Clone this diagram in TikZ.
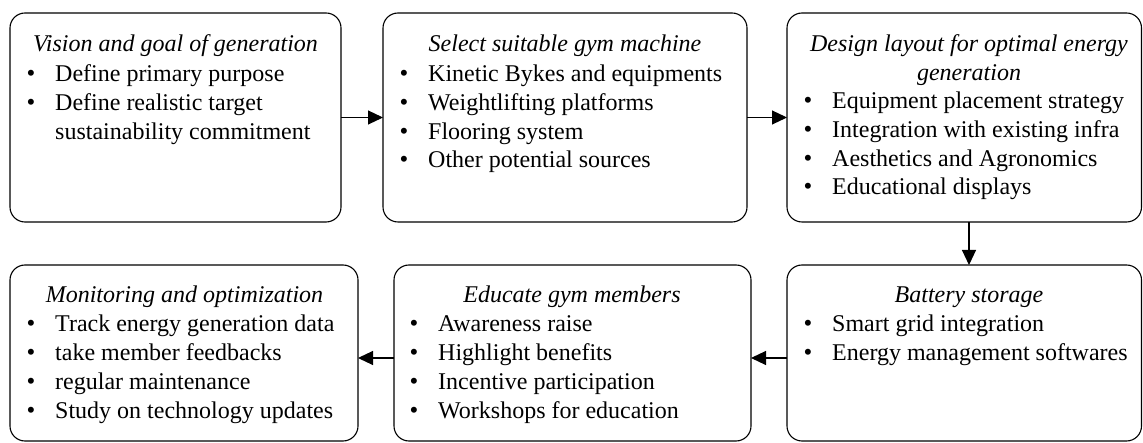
\documentclass[tikz,border=0pt]{standalone}
\usepackage{fontspec}
\setmainfont{Liberation Serif}
\usetikzlibrary{arrows.meta}
\tikzset{
 boxshape/.style={draw=black, line width=1.1pt, rounded corners=15pt, inner sep=0pt, outer sep=0pt},
 headtxt/.style={anchor=base, inner sep=0pt, font=\fontsize{24}{28.8}\selectfont\itshape},
 itemtxt/.style={anchor=base west, inner sep=0pt, font=\fontsize{24}{28.8}\selectfont},
 flow/.style={line width=1.1pt, -{Triangle[length=15pt,width=14pt]}},
}
\newcommand\bigbul{\makebox[28pt][l]{\hspace{-0.5pt}{\fontsize{25}{28}\selectfont\textbullet}}}
\newcommand\bitems[5]{%
 \foreach \t [count=\i from 0] in {#5} {
   \node[itemtxt] (#1-\i) at ({#2-28}, {#3+#4*\i}) {\bigbul\t};
 }}
\begin{document}
\begin{tikzpicture}[x=1pt,y=-1pt]
\useasboundingbox (0,0) rectangle (1143,443);
% boxes
\node[boxshape, minimum width=331pt, minimum height=209pt] (b1) at (175.5,117.5) {};
\node[boxshape, minimum width=364pt, minimum height=209pt] (b2) at (565,117.5) {};
\node[boxshape, minimum width=354.5pt, minimum height=209pt] (b3) at (964.25,117.5) {};
\node[boxshape, minimum width=348pt, minimum height=176pt] (b4) at (184,353) {};
\node[boxshape, minimum width=357pt, minimum height=176pt] (b5) at (572.5,353) {};
\node[boxshape, minimum width=354.5pt, minimum height=176pt] (b6) at (964.25,353) {};
% headers
\node[headtxt] (h1) at (175.5,52) {Vision and goal of generation};
\node[headtxt] (h2) at (565,52) {Select suitable gym machine};
\node[headtxt] (h3a) at (969,52) {Design layout for optimal energy};
\node[headtxt] (h3b) at (969,80.6) {generation};
\node[headtxt] (h4) at (184.5,303) {Monitoring and optimization};
\node[headtxt] (h5) at (572,303) {Educate gym members};
\node[headtxt] (h6) at (969,303) {Battery storage};
% items
\bitems{i1}{55}{82}{28.6}{Define primary purpose,Define realistic target}
\node[itemtxt] (i1-c) at (55,139.2) {sustainability commitment};
\bitems{i2}{428}{82}{28.6}{Kinetic Bykes and equipments,Weightlifting platforms,Flooring system,Other potential sources}
\bitems{i3}{832}{109}{28.6}{Equipment placement strategy,Integration with existing infra,Aesthetics and Agronomics,Educational displays}
\bitems{i4}{55}{332}{28.7}{Track energy generation data,take member feedbacks,regular maintenance,Study on technology updates}
\bitems{i5}{438}{332}{28.7}{Awareness raise,Highlight benefits,Incentive participation,Workshops for education}
\bitems{i6}{832}{332}{28.7}{Smart grid integration,Energy management softwares}
% connectors
\draw[flow] (b1.east) -- (b2.west);
\draw[flow] (b2.east) -- (b3.west);
\draw[flow] ([xshift=4.75pt]b3.south) -- ([xshift=4.75pt]b6.north);
\draw[flow] ([yshift=-5pt]b6.west) -- ([yshift=-5pt]b5.east);
\draw[flow] ([yshift=-5pt]b5.west) -- ([yshift=-5pt]b4.east);
\end{tikzpicture}
\end{document}
